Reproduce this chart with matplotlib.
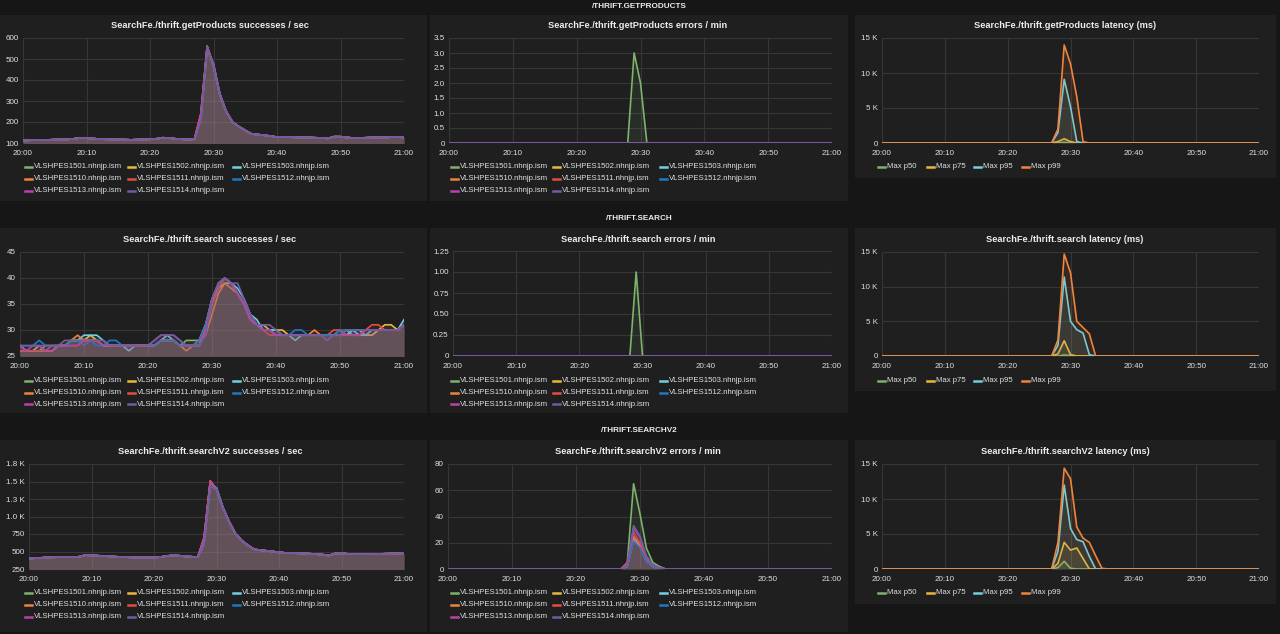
import matplotlib
matplotlib.use('Agg')
import matplotlib.pyplot as plt
from matplotlib.patches import Rectangle
from matplotlib.lines import Line2D
import numpy as np

plt.rcParams['font.family'] = ['Liberation Sans', 'DejaVu Sans']

W, H = 1280, 634
BG = '#161616'
PANEL = '#1f1f20'
GRID = '#363637'
TEXT = '#e0e0e1'

minutes = np.arange(61)
time_ticks = [0, 10, 20, 30, 40, 50, 60]
time_labels = ['20:00', '20:10', '20:20', '20:30', '20:40', '20:50', '21:00']

hosts = ['VLSHPES1501.nhnjp.ism', 'VLSHPES1502.nhnjp.ism', 'VLSHPES1503.nhnjp.ism',
         'VLSHPES1510.nhnjp.ism', 'VLSHPES1511.nhnjp.ism', 'VLSHPES1512.nhnjp.ism',
         'VLSHPES1513.nhnjp.ism', 'VLSHPES1514.nhnjp.ism']
host_colors = ['#7EB26D', '#EAB839', '#6ED0E0', '#EF843C', '#E24D42', '#1F78C1', '#BA43A9', '#705DA0']
pct_names = ['Max p50', 'Max p75', 'Max p95', 'Max p99']
pct_colors = ['#7EB26D', '#EAB839', '#6ED0E0', '#EF843C']

# getProducts successes / sec  (all hosts share the curve except around the peak)
gp_ok_base = [112, 113, 115, 115, 115, 116, 116, 117, 120, 124,
              123, 121, 119, 118, 117, 116, 116, 115, 116, 117,
              118, 120, 125, 124, 120, 118, 117, 118, 225, 560,
              470, 330, 250, 200, 178, 160, 143, 140, 137, 133,
              128, 128, 128, 127, 127, 126, 125, 124, 122, 130,
              130, 126, 124, 124, 125, 126, 126, 126, 128, 128,
              127]
# values at 20:28..20:31 per host
gp_ok_peak = [[220, 555, 465, 330], [225, 560, 470, 332], [215, 550, 478, 335], [240, 562, 468, 328],
              [238, 558, 466, 330], [210, 552, 475, 334], [230, 556, 468, 329], [205, 560, 470, 330]]

# getProducts errors / min (only 1501 non-zero)
gp_err_1501 = {28: 0, 29: 3, 30: 2, 31: 0}

# getProducts latency (ms)
gp_lat = [{29: 100},
          {28: 200, 29: 600, 30: 200},
          {28: 1500, 29: 9100, 30: 5200, 31: 200},
          {28: 2000, 29: 14000, 30: 11300, 31: 6600, 32: 200}]

# search successes / sec
search_ok = [
    [27, 26, 26, 26, 27, 27, 27, 27, 28, 28, 28, 28, 28, 27, 27, 27, 27, 27, 27, 27,
     27, 27, 28, 28, 28, 27, 28, 28, 28, 31, 35, 38, 40, 39, 37, 35, 32, 31, 30, 30,
     29, 29, 29, 29, 29, 29, 29, 29, 29, 29, 29, 30, 29, 29, 29, 29, 30, 30, 30, 30, 31],
    [26, 26, 26, 27, 26, 26, 27, 27, 28, 28, 28, 29, 28, 27, 27, 27, 27, 27, 27, 27,
     27, 27, 28, 28, 28, 27, 27, 27, 28, 31, 36, 38, 39, 39, 37, 35, 33, 31, 31, 30,
     30, 30, 29, 29, 29, 29, 29, 29, 29, 29, 29, 29, 30, 30, 29, 29, 30, 31, 31, 30, 31],
    [27, 26, 26, 26, 26, 26, 27, 27, 28, 28, 29, 29, 29, 28, 27, 27, 27, 26, 27, 27,
     27, 27, 28, 29, 28, 27, 27, 27, 27, 30, 35, 39, 40, 39, 38, 36, 33, 32, 30, 30,
     30, 29, 29, 28, 29, 29, 29, 29, 29, 29, 30, 29, 30, 29, 29, 30, 30, 30, 30, 30, 32],
    [27, 26, 26, 26, 26, 26, 27, 27, 28, 29, 28, 28, 28, 27, 27, 27, 27, 27, 27, 27,
     27, 27, 28, 28, 28, 27, 26, 27, 28, 29, 33, 37, 39, 38, 37, 35, 32, 31, 30, 30,
     29, 29, 29, 29, 29, 29, 30, 29, 29, 29, 29, 29, 29, 29, 30, 30, 30, 30, 30, 30, 31],
    [26, 26, 26, 26, 26, 27, 27, 27, 27, 27, 28, 28, 28, 27, 27, 27, 27, 27, 27, 27,
     27, 27, 28, 28, 28, 27, 27, 27, 28, 30, 35, 38, 40, 39, 37, 35, 32, 31, 30, 29,
     29, 29, 29, 29, 29, 29, 29, 29, 29, 30, 30, 29, 29, 29, 30, 31, 31, 30, 30, 30, 31],
    [27, 27, 27, 28, 27, 27, 27, 27, 28, 28, 28, 28, 27, 27, 28, 28, 27, 27, 27, 27,
     27, 27, 28, 28, 28, 27, 27, 27, 28, 31, 36, 39, 40, 39, 37, 35, 33, 31, 30, 30,
     29, 29, 29, 30, 30, 29, 29, 29, 29, 29, 30, 30, 30, 30, 30, 30, 30, 30, 30, 30, 31],
    [27, 26, 27, 27, 26, 26, 27, 27, 27, 27, 28, 28, 28, 27, 27, 27, 27, 27, 27, 27,
     27, 28, 29, 29, 29, 28, 27, 27, 27, 30, 36, 39, 40, 39, 37, 35, 32, 31, 30, 30,
     29, 29, 29, 29, 29, 29, 29, 29, 28, 29, 29, 29, 29, 29, 30, 30, 30, 30, 30, 30, 31],
    [27, 27, 27, 27, 27, 27, 27, 28, 28, 28, 27, 28, 28, 28, 27, 27, 27, 27, 27, 27,
     27, 28, 29, 29, 29, 28, 27, 27, 27, 29, 36, 39, 40, 39, 39, 36, 33, 31, 31, 31,
     30, 29, 29, 29, 29, 29, 29, 29, 28, 29, 29, 30, 30, 30, 30, 30, 30, 30, 30, 30, 31],
]

# search errors / min (only 1501 non-zero)
search_err_1501 = {28: 0, 29: 1, 30: 0}

# search latency (ms)
search_lat = [{29: 150, 30: 50},
              {28: 300, 29: 2200, 30: 200},
              {28: 1500, 29: 11400, 30: 5000, 31: 3800, 32: 3300, 33: 200},
              {28: 2300, 29: 14700, 30: 12000, 31: 5000, 32: 4100, 33: 3200}]

# searchV2 successes / sec
sv2_ok_base = [400, 405, 410, 415, 418, 420, 420, 420, 425, 448,
               445, 440, 435, 430, 425, 420, 418, 415, 415, 415,
               415, 420, 435, 445, 440, 430, 425, 420, 660, 1500,
               1390, 1130, 930, 760, 660, 590, 532, 518, 510, 500,
               488, 480, 478, 475, 472, 468, 462, 455, 442, 472,
               475, 466, 462, 462, 462, 465, 465, 468, 470, 472,
               468]
sv2_ok_peak = [[640, 1480, 1395, 1135], [650, 1500, 1400, 1130], [600, 1440, 1410, 1140], [700, 1510, 1385, 1128],
               [690, 1505, 1380, 1125], [620, 1450, 1405, 1138], [680, 1495, 1390, 1130], [590, 1430, 1380, 1125]]

# searchV2 errors / min
sv2_err = [{28: 4, 29: 65, 30: 42, 31: 16, 32: 5, 33: 2},
           {28: 2, 29: 24, 30: 19, 31: 7, 32: 2, 33: 1},
           {28: 2, 29: 22, 30: 17, 31: 6, 32: 2},
           {28: 3, 29: 25, 30: 18, 31: 7, 32: 2},
           {28: 5, 29: 28, 30: 20, 31: 8, 32: 3, 33: 1},
           {28: 2, 29: 21, 30: 16, 31: 6, 32: 2},
           {28: 3, 29: 31, 30: 24, 31: 9, 32: 3, 33: 1},
           {28: 3, 29: 33, 30: 25, 31: 10, 32: 3, 33: 1}]

# searchV2 latency (ms)
sv2_lat = [{28: 200, 29: 1100, 30: 100},
           {28: 800, 29: 3800, 30: 2700, 31: 3000, 32: 1500},
           {28: 2500, 29: 12000, 30: 5800, 31: 4200, 32: 3900, 33: 1800},
           {28: 3800, 29: 14400, 30: 12900, 31: 6000, 32: 4400, 33: 3800, 34: 1900, 35: 100}]


def spread(d):
    y = np.zeros(len(minutes))
    for m, v in d.items():
        y[m] = v
    return y


def with_peak(base, peak):
    y = np.array(base, dtype=float)
    y[28:32] = peak
    return y


fig = plt.figure(figsize=(W / 100, H / 100), dpi=100, facecolor=BG)


def panel_bg(x0, y0, x1, y1):
    fig.add_artist(Rectangle((x0 / W, 1 - y1 / H), (x1 - x0) / W, (y1 - y0) / H,
                             transform=fig.transFigure, facecolor=PANEL, edgecolor='none', zorder=0))


def make_ax(x0, y0, x1, y1, ylim, yticks, ylabels):
    ax = fig.add_axes([x0 / W, 1 - y1 / H, (x1 - x0) / W, (y1 - y0) / H])
    ax.set_facecolor(PANEL)
    ax.set_xlim(0, 60)
    ax.set_ylim(ylim)
    ax.set_xticks(time_ticks)
    ax.set_xticklabels(time_labels)
    ax.set_yticks(yticks)
    ax.set_yticklabels(ylabels)
    ax.grid(True, color=GRID, lw=0.8)
    ax.set_axisbelow(True)
    for s in ax.spines.values():
        s.set_visible(False)
    ax.tick_params(length=0, labelsize=5.8, colors=TEXT)
    ax.tick_params(axis='x', pad=5)
    ax.tick_params(axis='y', pad=3)
    return ax


def draw_series(ax, series, colors):
    for i, (y, c) in enumerate(zip(series, colors)):
        ax.fill_between(minutes, y, 0, color=c, alpha=0.1, lw=0, zorder=2 + i)
        ax.plot(minutes, y, color=c, lw=1.2, zorder=2 + i)


def legend(xs, ys, names, colors):
    for i, (name, c) in enumerate(zip(names, colors)):
        x = xs[i % len(xs)]
        y = ys[i // len(xs)]
        fig.add_artist(Line2D([x / W, (x + 7) / W], [1 - y / H, 1 - y / H], color=c, lw=1.8,
                              transform=fig.transFigure))
        fig.text((x + 9) / W, 1 - y / H, name, fontsize=5.6, color=TEXT, va='center', ha='left')


def title(xc, y, s, size=6.7):
    fig.text(xc / W, 1 - y / H, s, fontsize=size, color='#ececec', weight='bold', ha='center', va='center')


lat_ticks = [0, 5000, 10000, 15000]
lat_labels = ['0', '5 K', '10 K', '15 K']
col1_leg = [25, 128, 233]
col2_leg = [451, 553, 660]
lat_leg = [878, 927, 974, 1022]

# row headers
title(639, 6, '/THRIFT.GETPRODUCTS', 5.9)
title(639, 218, '/THRIFT.SEARCH', 5.9)
title(639, 431, '/THRIFT.SEARCHV2', 5.9)

# ---- row 1 : getProducts
panel_bg(0, 15, 427, 201)
panel_bg(430, 15, 848, 201)
panel_bg(855, 15, 1276, 178)

ax = make_ax(23, 38, 404, 143, (100, 600), [100, 200, 300, 400, 500, 600],
             ['100', '200', '300', '400', '500', '600'])
draw_series(ax, [with_peak(gp_ok_base, p) for p in gp_ok_peak], host_colors)
title(210, 26, 'SearchFe./thrift.getProducts successes / sec')
legend(col1_leg, [167, 179, 191], hosts, host_colors)

ax = make_ax(449, 38, 832, 143, (0, 3.5), [0, 0.5, 1, 1.5, 2, 2.5, 3, 3.5],
             ['0', '0.5', '1.0', '1.5', '2.0', '2.5', '3.0', '3.5'])
draw_series(ax, [spread(gp_err_1501)] + [spread({}) for _ in hosts[1:]], host_colors)
title(638, 26, 'SearchFe./thrift.getProducts errors / min')
legend(col2_leg, [167, 179, 191], hosts, host_colors)

ax = make_ax(882, 38, 1259, 143, (0, 15000), lat_ticks, lat_labels)
draw_series(ax, [spread(d) for d in gp_lat], pct_colors)
title(1065, 26, 'SearchFe./thrift.getProducts latency (ms)')
legend(lat_leg, [167], pct_names, pct_colors)

# ---- row 2 : search
panel_bg(0, 228, 427, 413)
panel_bg(430, 228, 848, 413)
panel_bg(855, 228, 1276, 391)

ax = make_ax(20, 252, 404, 356, (25, 45), [25, 30, 35, 40, 45], ['25', '30', '35', '40', '45'])
draw_series(ax, [np.array(s, dtype=float) for s in search_ok], host_colors)
title(210, 239, 'SearchFe./thrift.search successes / sec')
legend(col1_leg, [381, 392.5, 404], hosts, host_colors)

ax = make_ax(453, 251, 832, 356, (0, 1.25), [0, 0.25, 0.5, 0.75, 1, 1.25],
             ['0', '0.25', '0.50', '0.75', '1.00', '1.25'])
draw_series(ax, [spread(search_err_1501)] + [spread({}) for _ in hosts[1:]], host_colors)
title(638, 239, 'SearchFe./thrift.search errors / min')
legend(col2_leg, [381, 392.5, 404], hosts, host_colors)

ax = make_ax(882, 252, 1259, 356, (0, 15000), lat_ticks, lat_labels)
draw_series(ax, [spread(d) for d in search_lat], pct_colors)
title(1065, 239, 'SearchFe./thrift.search latency (ms)')
legend(lat_leg, [381], pct_names, pct_colors)

# ---- row 3 : searchV2
panel_bg(0, 440, 427, 632)
panel_bg(430, 440, 848, 632)
panel_bg(855, 440, 1276, 604)

ax = make_ax(29, 464, 404, 569, (250, 1750), [250, 500, 750, 1000, 1250, 1500, 1750],
             ['250', '500', '750', '1.0 K', '1.3 K', '1.5 K', '1.8 K'])
draw_series(ax, [with_peak(sv2_ok_base, p) for p in sv2_ok_peak], host_colors)
title(210, 452, 'SearchFe./thrift.searchV2 successes / sec')
legend(col1_leg, [593, 605, 617], hosts, host_colors)

ax = make_ax(448, 464, 832, 569, (0, 80), [0, 20, 40, 60, 80], ['0', '20', '40', '60', '80'])
draw_series(ax, [spread(d) for d in sv2_err], host_colors)
title(638, 452, 'SearchFe./thrift.searchV2 errors / min')
legend(col2_leg, [593, 605, 617], hosts, host_colors)

ax = make_ax(882, 464, 1259, 569, (0, 15000), lat_ticks, lat_labels)
draw_series(ax, [spread(d) for d in sv2_lat], pct_colors)
title(1065, 452, 'SearchFe./thrift.searchV2 latency (ms)')
legend(lat_leg, [593], pct_names, pct_colors)

fig.savefig('out.png', dpi=100, facecolor=BG)
